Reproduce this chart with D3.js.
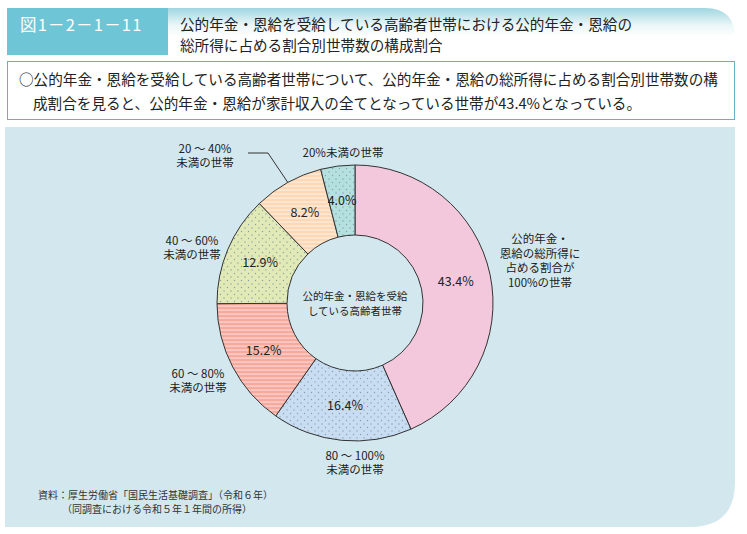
<!DOCTYPE html>
<html>
<head>
<meta charset="utf-8">
<script src="https://cdn.jsdelivr.net/npm/d3@7"></script>
<style>
  body { margin: 0; background: #fff; }
  svg text { font-family: "Noto Sans CJK JP", "Noto Sans", sans-serif; }
</style>
</head>
<body>
<div id="chart1"></div>
<script>
// data
let figNo = '図1－2－1－11';
let titleLines = ['公的年金・恩給を受給している高齢者世帯における公的年金・恩給の', '総所得に占める割合別世帯数の構成割合'];
let descLines = ['○公的年金・恩給を受給している高齢者世帯について、公的年金・恩給の総所得に占める割合別世帯数の構', '成割合を見ると、公的年金・恩給が家計収入の全てとなっている世帯が43.4%となっている。'];
let categories = [
     ['公的年金・', '恩給の総所得に', '占める割合が', '100%の世帯'],
     ['80 ～ 100%', '未満の世帯'],
     ['60 ～ 80%', '未満の世帯'],
     ['40 ～ 60%', '未満の世帯'],
     ['20 ～ 40%', '未満の世帯'],
     ['20%未満の世帯']
];
let values = [43.4, 16.4, 15.2, 12.9, 8.2, 4.0];
let centerLines = ['公的年金・恩給を受給', 'している高齢者世帯'];
let sourceLines = ['資料：厚生労働省「国民生活基礎調査」（令和６年）', '（同調査における令和５年１年間の所得）'];

// styling / layout
let fills = ['#f4c8dc', '#c8dcf2', '#f7a99d', '#e1eab6', '#fdd8b6', '#b4e0e0'];
let patterns = ['none', 'dots', 'stripes', 'dots', 'stripes', 'dots'];
let labelOffsets = [[185, -42], [0, 160], [-157, 78], [-163, -55], [-150, -147], [-12, -150]];

let dim = {
     'width': 747,
     'height': 534
};
let cx = 355;
let cy = 303;
let rOuter = 138;
let rInner = 68;

let svg = d3.select('#chart1').append('svg')
     .attr('width', dim.width)
     .attr('height', dim.height);

let defs = svg.append('defs');

let grad = defs.append('linearGradient')
     .attr('id', 'hdr')
     .attr('x1', 0).attr('y1', 0).attr('x2', 0).attr('y2', 1);
grad.append('stop').attr('offset', '0%').attr('stop-color', '#9fd6e0');
grad.append('stop').attr('offset', '35%').attr('stop-color', '#eaf6f8');
grad.append('stop').attr('offset', '60%').attr('stop-color', '#ffffff');

fills.forEach((c, i) => {
     if (patterns[i] == 'dots') {
          let p = defs.append('pattern')
               .attr('id', 'pat' + i)
               .attr('patternUnits', 'userSpaceOnUse')
               .attr('width', 7).attr('height', 7);
          p.append('rect').attr('width', 7).attr('height', 7).attr('fill', c);
          p.append('circle').attr('cx', 2).attr('cy', 2).attr('r', 0.7).attr('fill', '#8aa0a8');
          p.append('circle').attr('cx', 5.5).attr('cy', 5.5).attr('r', 0.7).attr('fill', '#8aa0a8');
     } else if (patterns[i] == 'stripes') {
          let p = defs.append('pattern')
               .attr('id', 'pat' + i)
               .attr('patternUnits', 'userSpaceOnUse')
               .attr('width', 6).attr('height', 4);
          p.append('rect').attr('width', 6).attr('height', 4).attr('fill', c);
          p.append('rect').attr('y', 2.6).attr('width', 6).attr('height', 0.9).attr('fill', '#ffffff').attr('opacity', 0.75);
     }
});

// header
svg.append('path')
     .attr('d', 'M7,8 H705 Q735,8 735,38 V56 H7 Z')
     .attr('fill', 'url(#hdr)');
svg.append('rect')
     .attr('x', 7).attr('y', 8)
     .attr('width', 161).attr('height', 47)
     .attr('fill', '#6ec5d5');
svg.append('text')
     .attr('x', 20).attr('y', 31)
     .attr('fill', '#ffffff')
     .attr('font-size', 16.5)
     .attr('letter-spacing', 1.2)
     .text(figNo);
svg.selectAll('.title')
     .data(titleLines)
     .join('text')
     .attr('class', 'title')
     .attr('x', 180)
     .attr('y', (d, i) => 30 + i * 21)
     .attr('font-size', 14.6)
     .attr('fill', '#222')
     .text(d => d);

// description box
svg.append('rect')
     .attr('x', 7.5).attr('y', 61.5)
     .attr('width', 727).attr('height', 58)
     .attr('fill', '#ffffff')
     .attr('stroke', '#5fb4be');
svg.selectAll('.desc')
     .data(descLines)
     .join('text')
     .attr('class', 'desc')
     .attr('x', (d, i) => i == 0 ? 19 : 33)
     .attr('y', (d, i) => 85 + i * 24)
     .attr('font-size', 14.6)
     .attr('fill', '#222')
     .text(d => d);

// chart panel
svg.append('path')
     .attr('d', 'M5,127 H735 V482 Q735,527 690,527 H5 Z')
     .attr('fill', '#d3e8ee');

// donut
let pie = d3.pie().sort(null).value(d => d);
let arcs = pie(values);
let arc = d3.arc().innerRadius(rInner).outerRadius(rOuter);
let edgeArc = d3.arc().innerRadius(rOuter).outerRadius(rOuter);

let g = svg.append('g').attr('transform', `translate(${cx}, ${cy})`);

g.selectAll('path.slice')
     .data(arcs)
     .join('path')
     .attr('class', 'slice')
     .attr('d', arc)
     .attr('fill', (d, i) => patterns[i] == 'none' ? fills[i] : `url(#pat${i})`)
     .attr('stroke', '#333')
     .attr('stroke-width', 1);

g.selectAll('text.pct')
     .data(arcs)
     .join('text')
     .attr('class', 'pct')
     .attr('x', d => arc.centroid(d)[0])
     .attr('y', d => arc.centroid(d)[1])
     .attr('dy', '0.35em')
     .attr('text-anchor', 'middle')
     .attr('font-size', 12.5)
     .attr('fill', '#222')
     .text(d => d.value.toFixed(1) + '%');

g.selectAll('text.ctr')
     .data(centerLines)
     .join('text')
     .attr('class', 'ctr')
     .attr('x', 0)
     .attr('y', (d, i) => -7 + i * 15)
     .attr('dy', '0.35em')
     .attr('text-anchor', 'middle')
     .attr('font-size', 10.5)
     .attr('fill', '#222')
     .text(d => d);

// outside labels
arcs.forEach((d, i) => {
     let lines = categories[i];
     let lh = 14.5;
     let y0 = labelOffsets[i][1] - (lines.length - 1) * lh / 2;
     g.append('g')
          .selectAll('text')
          .data(lines)
          .join('text')
          .attr('x', labelOffsets[i][0])
          .attr('y', (t, j) => y0 + j * lh)
          .attr('dy', '0.35em')
          .attr('text-anchor', 'middle')
          .attr('font-size', 11.5)
          .attr('fill', '#222')
          .text(t => t);
});

// leader line for the 20～40% slice
let tip = edgeArc.centroid(arcs[4]);
g.append('path')
     .attr('d', `M${-107},${-150} H${-87} L${tip[0]},${tip[1]}`)
     .attr('fill', 'none')
     .attr('stroke', '#333')
     .attr('stroke-width', 1);

// source
svg.selectAll('.src')
     .data(sourceLines)
     .join('text')
     .attr('class', 'src')
     .attr('x', (d, i) => i == 0 ? 38 : 62)
     .attr('y', (d, i) => 499 + i * 14)
     .attr('font-size', 10)
     .attr('fill', '#333')
     .text(d => d);
</script>
</body>
</html>
